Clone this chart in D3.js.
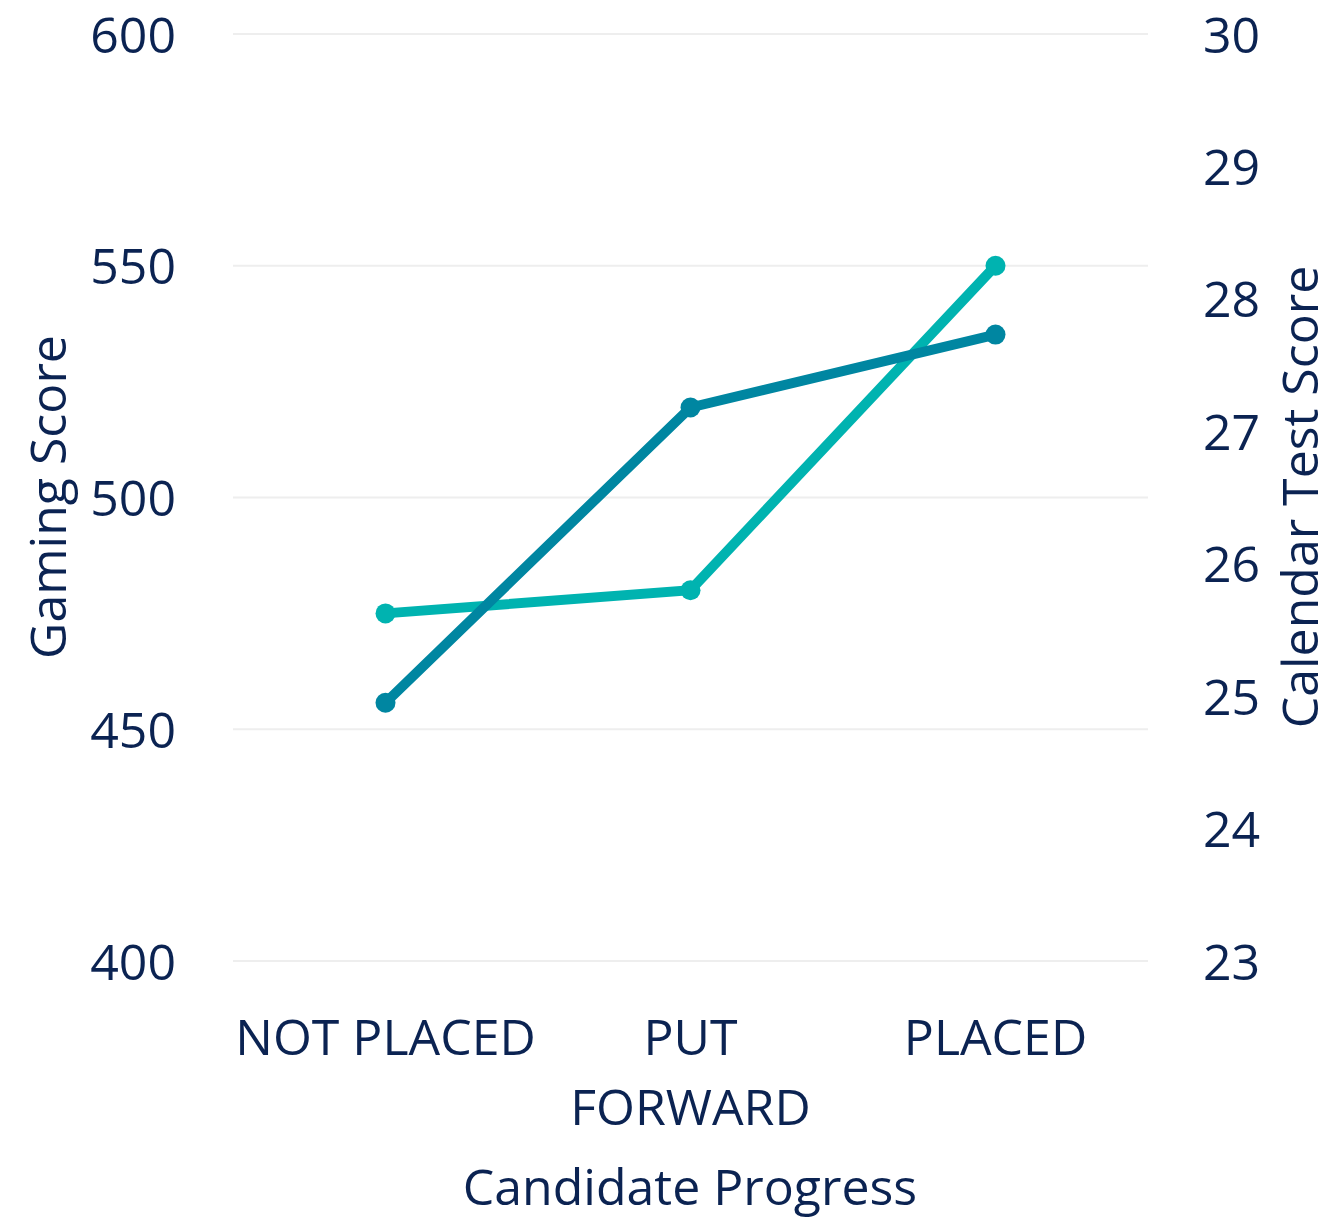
<!DOCTYPE html>
<html>
<head>
<meta charset="utf-8">
<script src="https://cdn.jsdelivr.net/npm/d3@7"></script>
<style>
  body { margin: 0; background: #fff; }
  text { font-family: "Open Sans", sans-serif; fill: #0b2352; }
</style>
</head>
<body>
<div id="graphic"></div>
<script>
  var categories = [["NOT PLACED"], ["PUT", "FORWARD"], ["PLACED"]];
  var gamingScore = [475, 480, 550];
  var calendarScore = [24.95, 27.18, 27.73];
  var leftTicks = [400, 450, 500, 550, 600];
  var rightTicks = [23, 24, 25, 26, 27, 28, 29, 30];

  var width = 1332;
  var height = 1219;
  var plotLeft = 233, plotRight = 1148, plotTop = 34, plotBottom = 961;

  var svg = d3.select("#graphic")
    .append("svg")
    .attr("width", width)
    .attr("height", height);

  var xScale = d3.scaleBand().domain(d3.range(categories.length)).range([plotLeft, plotRight]);
  var yLeft = d3.scaleLinear().domain([400, 600]).range([plotBottom, plotTop]);
  var yRight = d3.scaleLinear().domain([23, 30]).range([plotBottom, plotTop]);

  var getX = function(d, i) { return xScale(i) + xScale.bandwidth() / 2; };

  // gridlines
  svg.append("g")
    .selectAll("line")
    .data(leftTicks)
    .enter().append("line")
    .attr("x1", plotLeft).attr("x2", plotRight)
    .attr("y1", d => yLeft(d)).attr("y2", d => yLeft(d))
    .attr("stroke", "#eeeeee")
    .attr("stroke-width", 2);

  // left axis
  var leftAxis = svg.append("g")
    .attr("transform", "translate(176,0)")
    .call(d3.axisLeft(yLeft).tickValues(leftTicks).tickSize(0).tickPadding(0));
  leftAxis.select(".domain").remove();
  leftAxis.selectAll("text").style("font-size", "50px").attr("fill", "#0b2352").attr("dy", "0.36em");

  // right axis
  var rightAxis = svg.append("g")
    .attr("transform", "translate(1203,0)")
    .call(d3.axisRight(yRight).tickValues(rightTicks).tickFormat(d3.format("d")).tickSize(0).tickPadding(0));
  rightAxis.select(".domain").remove();
  rightAxis.selectAll("text").style("font-size", "50px").attr("fill", "#0b2352").attr("dy", "0.36em");

  // category labels
  var xLabels = svg.append("g");
  categories.forEach(function(lines, i) {
    var t = xLabels.append("text")
      .attr("text-anchor", "middle")
      .attr("x", getX(null, i))
      .attr("y", 1055)
      .style("font-size", "50px");
    lines.forEach(function(l, j) {
      t.append("tspan").attr("x", getX(null, i)).attr("dy", j ? 70 : 0).text(l);
    });
  });

  // axis titles
  svg.append("text")
    .attr("text-anchor", "middle")
    .attr("transform", "translate(66,497) rotate(-90)")
    .style("font-size", "50px")
    .text("Gaming Score");

  svg.append("text")
    .attr("text-anchor", "middle")
    .attr("transform", "translate(1318,497) rotate(-90)")
    .style("font-size", "50px")
    .text("Calendar Test Score");

  svg.append("text")
    .attr("text-anchor", "middle")
    .attr("x", 690)
    .attr("y", 1205)
    .style("font-size", "50px")
    .text("Candidate Progress");

  function renderSeries(data, scale, color) {
    svg.append("path")
      .datum(data)
      .attr("fill", "none")
      .attr("stroke", color)
      .attr("stroke-width", 10)
      .attr("d", d3.line().x(getX).y(d => scale(d)));

    svg.append("g")
      .selectAll("circle")
      .data(data)
      .enter().append("circle")
      .attr("cx", getX)
      .attr("cy", d => scale(d))
      .attr("r", 10)
      .attr("fill", color);
  }

  renderSeries(gamingScore, yLeft, "#00b3b0");
  renderSeries(calendarScore, yRight, "#0086a1");
</script>
</body>
</html>
